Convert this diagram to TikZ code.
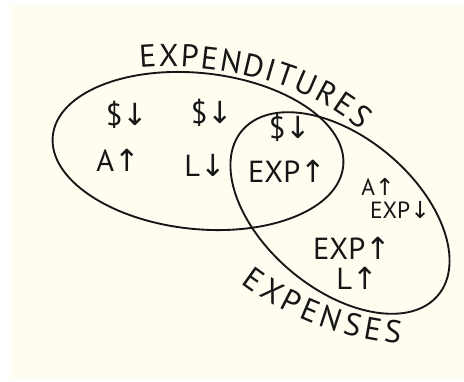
\documentclass[tikz,border=0pt]{standalone}
\usepackage{fontspec}
\setsansfont{PT Sans}
\newfontfamily\arrowfont{DejaVu Sans}
\usetikzlibrary{decorations.text}
\definecolor{sketchink}{HTML}{161616}
\definecolor{sketchpaper}{HTML}{FFFCF0}
\newcommand{\arrup}{{\arrowfont ↑}}
\newcommand{\arrdn}{{\arrowfont ↓}}
\tikzset{
	vset/.style={draw=sketchink, line width=1.6pt},
	vlbl/.style={text=sketchink, inner sep=0pt, font=\fontsize{26}{30}\selectfont\sffamily},
	vsmall/.style={vlbl, font=\fontsize{20}{24}\selectfont\sffamily},
	vword/.style={decorate, decoration={text along path, text align={fit to path},
		text={|\fontsize{27}{31}\selectfont\sffamily\color{sketchink}|#1}}}
}

\begin{document}
\begin{tikzpicture}[x=0.03cm, y=-0.03cm]
	\useasboundingbox (0,0) rectangle (464,381);
	\fill[white] (0,0) rectangle (464,381);
	\fill[sketchpaper] (11,5) rectangle (464,379);

	% the two sets
	\coordinate (expd) at (198,151);
	\coordinate (expn) at (340,213);
	\draw[vset, rotate around={-6:(expd)}] (expd) ellipse [x radius=146, y radius=78];
	\draw[vset, rotate around={-40:(expn)}] (expn) ellipse [x radius=128, y radius=76];

	% set names
	\path[vword=EXPENDITURES] (140,68) .. controls (205,62) and (305,78) .. (360,130);
	\path[vword=EXPENSES] (241,283) .. controls (285,316) and (330,336) .. (400,344);

	% entries
	\node[vlbl] (cash1) at (127,115) {\$\arrdn};
	\node[vlbl] (asset1) at (118,160) {A\arrup};
	\node[vlbl] (cash2) at (212,113) {\$\arrdn};
	\node[vlbl] (liab1) at (205,165) {L\arrdn};
	\node[vlbl] (cash3) at (290,128) {\$\arrdn};
	\node[vlbl] (exp1) at (287,171) {EXP\arrup};
	\node[vsmall] (asset2) at (378,187) {A\arrup};
	\node[vsmall] (exp2) at (400,210) {EXP\arrdn};
	\node[vlbl] (exp3) at (352,248) {EXP\arrup};
	\node[vlbl] (liab2) at (357,278) {L\arrup};
\end{tikzpicture}
\end{document}
